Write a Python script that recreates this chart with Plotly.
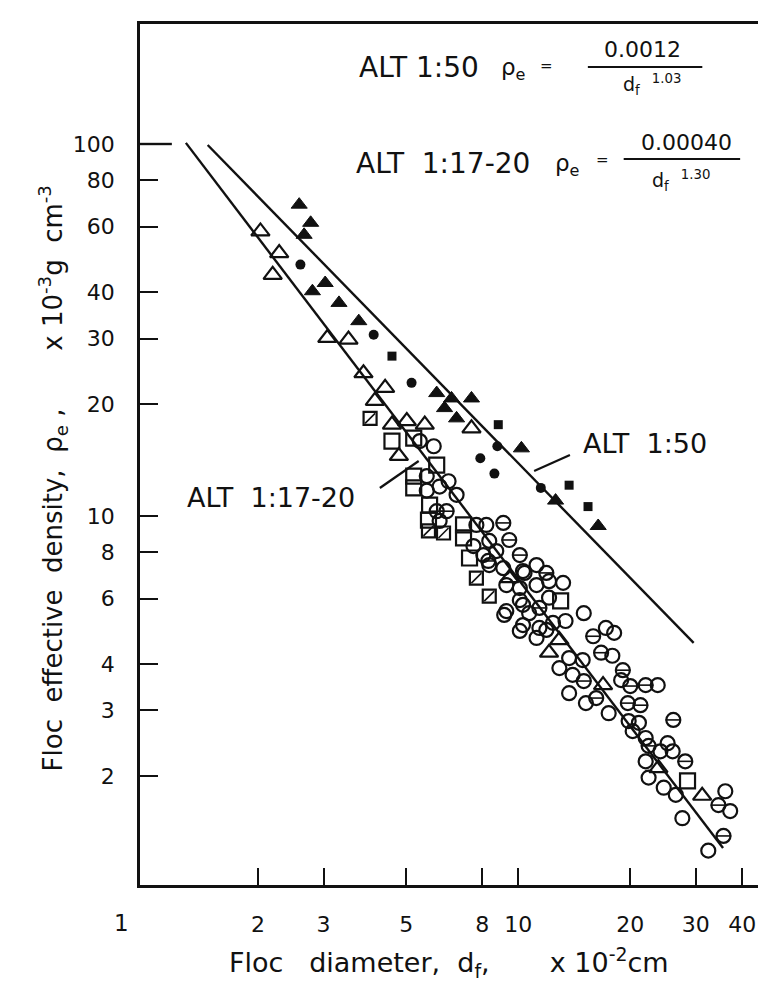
import plotly.graph_objects as go
import math

# ---------------- data (x: floc diameter, x10^-2 cm ; y: effective density, x10^-3 g cm^-3)
alt50_line_x = [1.465, 29.6]
alt50_line_y = [99.4, 4.56]
alt17_line_x = [1.28, 35.5]
alt17_line_y = [100.7, 1.28]

fill_tri_x = [2.58, 2.77, 2.66, 3.03, 2.80, 3.30, 3.73, 6.04, 6.62, 7.49, 6.34, 6.83, 10.2, 12.6, 16.4]
fill_tri_y = [68.7, 61.4, 57.0, 42.3, 40.2, 37.4, 33.4, 21.4, 20.7, 20.7, 19.5, 18.3, 15.2, 11.0, 9.4]

fill_circ_x = [2.60, 4.09, 5.17, 7.91, 8.63, 11.5, 8.79]
fill_circ_y = [47.4, 30.7, 22.8, 14.3, 13.0, 11.9, 15.4]

fill_sq_x = [4.58, 8.84, 13.7, 15.4]
fill_sq_y = [26.9, 17.6, 12.1, 10.6]

open_tri_x = [2.03, 2.28, 2.19, 3.07, 3.50, 3.84, 4.39, 4.12, 4.58, 5.02, 5.61, 4.78, 7.49,
              12.9, 12.1, 9.46, 23.8, 31.2, 16.9]
open_tri_y = [58.2, 50.9, 44.5, 30.1, 29.8, 24.2, 22.1, 20.4, 17.6, 18.0, 17.6, 14.5, 17.2,
              4.64, 4.29, 6.81, 2.10, 1.77, 3.51]

open_sq_x = [4.58, 5.24, 6.04, 5.24, 5.24, 5.78, 5.74, 7.13, 7.13, 7.40, 13.0, 28.5]
open_sq_y = [15.9, 16.2, 13.7, 12.8, 11.9, 10.7, 9.75, 9.46, 8.73, 7.71, 5.91, 1.94]

diag_sq_x = [4.00, 5.74, 6.30, 7.72, 8.36]
diag_sq_y = [18.3, 9.12, 9.0, 6.81, 6.09]

open_circ_x = [5.44, 5.93, 5.68, 5.68, 6.15, 6.50, 6.83, 6.15, 7.72, 8.21, 7.58, 8.36, 8.06,
               8.73, 8.36, 9.12, 10.3, 11.2, 9.29, 10.1, 11.2, 12.1, 9.29, 10.3, 12.1, 10.3,
               11.4, 10.4, 13.2, 10.1, 15.0, 13.4, 17.2, 18.1, 11.9, 10.7, 10.1, 11.2, 13.7,
               14.9, 17.9, 12.9, 14.0, 13.7, 15.2, 17.5, 18.9, 23.7, 19.8, 21.1, 20.3, 22.0,
               24.1, 25.2, 26.0, 22.0, 22.4, 24.6, 26.5, 36.0, 37.1, 27.6, 32.4, 9.17, 12.4]
open_circ_y = [15.9, 15.4, 12.8, 11.7, 12.0, 12.4, 11.4, 9.7, 9.46, 9.46, 8.30, 8.57, 7.85,
               8.05, 7.38, 7.24, 7.11, 7.38, 6.52, 6.40, 6.52, 6.68, 5.55, 5.77, 6.03, 5.09,
               5.00, 7.03, 6.61, 5.94, 5.48, 5.22, 5.00, 4.85, 4.94, 5.48, 4.91, 4.70, 4.15,
               4.10, 4.21, 3.90, 3.74, 3.34, 3.14, 2.95, 3.62, 3.51, 2.81, 2.78, 2.64, 2.53,
               2.33, 2.45, 2.33, 2.19, 1.98, 1.86, 1.78, 1.82, 1.61, 1.54, 1.26, 5.42, 5.16]

theta_circ_x = [6.04, 6.42, 9.12, 9.46, 10.1, 11.4, 8.31, 11.9, 15.9, 16.7, 15.0, 16.2, 19.1,
                20.0, 22.0, 19.7, 21.3, 26.1, 22.4, 28.1, 34.5, 35.6]
theta_circ_y = [10.3, 10.3, 9.58, 8.62, 7.85, 5.66, 7.57, 7.03, 4.75, 4.29, 3.60, 3.24, 3.85,
                3.49, 3.51, 3.14, 3.10, 2.83, 2.41, 2.19, 1.67, 1.38]

x_ticks = [2, 3, 5, 8, 10, 20, 30, 40]
x_tick_labels = ["2", "3", "5", "8", "10", "20", "30", "40"]
y_ticks = [2, 3, 4, 6, 8, 10, 20, 30, 40, 60, 80, 100]
y_tick_labels = ["2", "3", "4", "6", "8", "10", "20", "30", "40", "60", "80", "100"]

# ---------------- layout geometry
W, H = 766, 997
ML, MR, MT, MB = 132, 3, 16, 120
XR = [-0.016, 1.671]
YR = [0.008, 2.3226]
FONT = "DejaVu Sans"
INK = "#111111"


def px(xp):
    return (xp - ML) / (W - ML - MR)


def py(yp):
    return (H - MB - yp) / (H - MT - MB)


def ypaper_of(v):
    return (math.log10(v) - YR[0]) / (YR[1] - YR[0])


fig = go.Figure()

# fitted lines
fig.add_trace(go.Scatter(x=alt50_line_x, y=alt50_line_y, mode="lines",
                         line=dict(color=INK, width=2.4), hoverinfo="skip"))
fig.add_trace(go.Scatter(x=alt17_line_x, y=alt17_line_y, mode="lines",
                         line=dict(color=INK, width=2.4), hoverinfo="skip"))

fig.add_trace(go.Scatter(x=open_circ_x, y=open_circ_y, mode="markers",
                         marker=dict(symbol="circle-open", size=14, color=INK,
                                     line=dict(color=INK, width=2.2))))
fig.add_trace(go.Scatter(x=theta_circ_x, y=theta_circ_y, mode="markers",
                         marker=dict(symbol="circle-open", size=14, color=INK,
                                     line=dict(color=INK, width=2.2))))
fig.add_trace(go.Scatter(x=theta_circ_x, y=theta_circ_y, mode="markers",
                         marker=dict(symbol="line-ew", size=11, color=INK,
                                     line=dict(color=INK, width=1.6))))
fig.add_trace(go.Scatter(x=open_sq_x, y=open_sq_y, mode="markers",
                         marker=dict(symbol="square-open", size=15, color=INK,
                                     line=dict(color=INK, width=2.2))))
fig.add_trace(go.Scatter(x=diag_sq_x, y=diag_sq_y, mode="markers",
                         marker=dict(symbol="square-open", size=13, color=INK,
                                     line=dict(color=INK, width=2.2))))
fig.add_trace(go.Scatter(x=diag_sq_x, y=diag_sq_y, mode="markers",
                         marker=dict(symbol="line-ne", size=10, color=INK,
                                     line=dict(color=INK, width=1.6))))
fig.add_trace(go.Scatter(x=open_tri_x, y=open_tri_y, mode="markers",
                         marker=dict(symbol="triangle-up-open", size=16, color=INK,
                                     line=dict(color=INK, width=2.2))))
fig.add_trace(go.Scatter(x=fill_tri_x, y=fill_tri_y, mode="markers",
                         marker=dict(symbol="triangle-up", size=14, color=INK,
                                     line=dict(color=INK, width=1))))
fig.add_trace(go.Scatter(x=fill_circ_x, y=fill_circ_y, mode="markers",
                         marker=dict(symbol="circle", size=10, color=INK)))
fig.add_trace(go.Scatter(x=fill_sq_x, y=fill_sq_y, mode="markers",
                         marker=dict(symbol="square", size=9, color=INK)))

ann = []


def add_text(text, xp, yp, size, xanchor="center", yanchor="middle", angle=0):
    ann.append(dict(text=text, x=px(xp), y=py(yp), xref="paper", yref="paper",
                    showarrow=False, xanchor=xanchor, yanchor=yanchor, textangle=angle,
                    font=dict(family=FONT, size=size, color=INK)))


# axis titles
add_text("Floc  effective  density,  ρ<sub>e</sub> ,       x 10<sup>-3</sup>g  cm<sup>-3</sup>",
         44, 470, 26, angle=-90)
add_text("Floc   diameter,  d<sub>f</sub>,       x 10<sup>-2</sup>cm", 442, 955, 27)
add_text("1", 113, 915, 23)

# in-plot labels
add_text("ALT  1:50", 575, 435, 27, xanchor="left")
add_text("ALT  1:17-20", 177, 490, 27, xanchor="left")

# formulas
add_text("ALT 1:50", 350, 59, 28, xanchor="left")
add_text("ρ<sub>e</sub>", 493, 61, 23, xanchor="left")
add_text("=", 540, 58, 15)
add_text("0.0012", 637, 42, 22)
add_text("d<sub>f</sub>  <sup>1.03</sup>", 646, 77, 19)
add_text("ALT  1:17-20", 347, 155, 28, xanchor="left")
add_text("ρ<sub>e</sub>", 547, 157, 23, xanchor="left")
add_text("=", 597, 152, 15)
add_text("0.00040", 681, 134, 22)
add_text("d<sub>f</sub>  <sup>1.30</sup>", 676, 173, 19)

shapes = []


def seg(x0, y0, x1, y1, w=2.2):
    shapes.append(dict(type="line", xref="paper", yref="paper",
                       x0=px(x0), y0=py(y0), x1=px(x1), y1=py(y1),
                       line=dict(color=INK, width=w)))


seg(582, 59, 697, 59)
seg(618, 151, 735, 151)
seg(528, 463, 564, 447)
seg(373, 480, 412, 453)
# longer tick at 100
shapes.append(dict(type="line", xref="paper", yref="paper", x0=0, x1=32 / (W - ML - MR),
                   y0=ypaper_of(100), y1=ypaper_of(100), line=dict(color=INK, width=2.4)))

fig.update_layout(
    width=W, height=H, margin=dict(l=ML, r=MR, t=MT, b=MB),
    paper_bgcolor="white", plot_bgcolor="white", showlegend=False,
    annotations=ann, shapes=shapes,
    font=dict(family=FONT, size=23, color=INK),
)
fig.update_xaxes(type="log", range=XR, tickvals=x_ticks, ticktext=x_tick_labels,
                 ticks="inside", ticklen=17, tickwidth=2.2, tickcolor=INK,
                 showline=True, linecolor=INK, linewidth=2.6, mirror=True,
                 showgrid=False, zeroline=False, ticklabelstandoff=18,
                 tickfont=dict(family=FONT, size=22, color=INK))
fig.update_yaxes(type="log", range=YR, tickvals=y_ticks, ticktext=y_tick_labels,
                 ticks="inside", ticklen=18, tickwidth=2.2, tickcolor=INK,
                 showline=True, linecolor=INK, linewidth=2.6, mirror=True,
                 showgrid=False, zeroline=False, ticklabelstandoff=18,
                 tickfont=dict(family=FONT, size=22, color=INK))

fig.write_html("out.html")
